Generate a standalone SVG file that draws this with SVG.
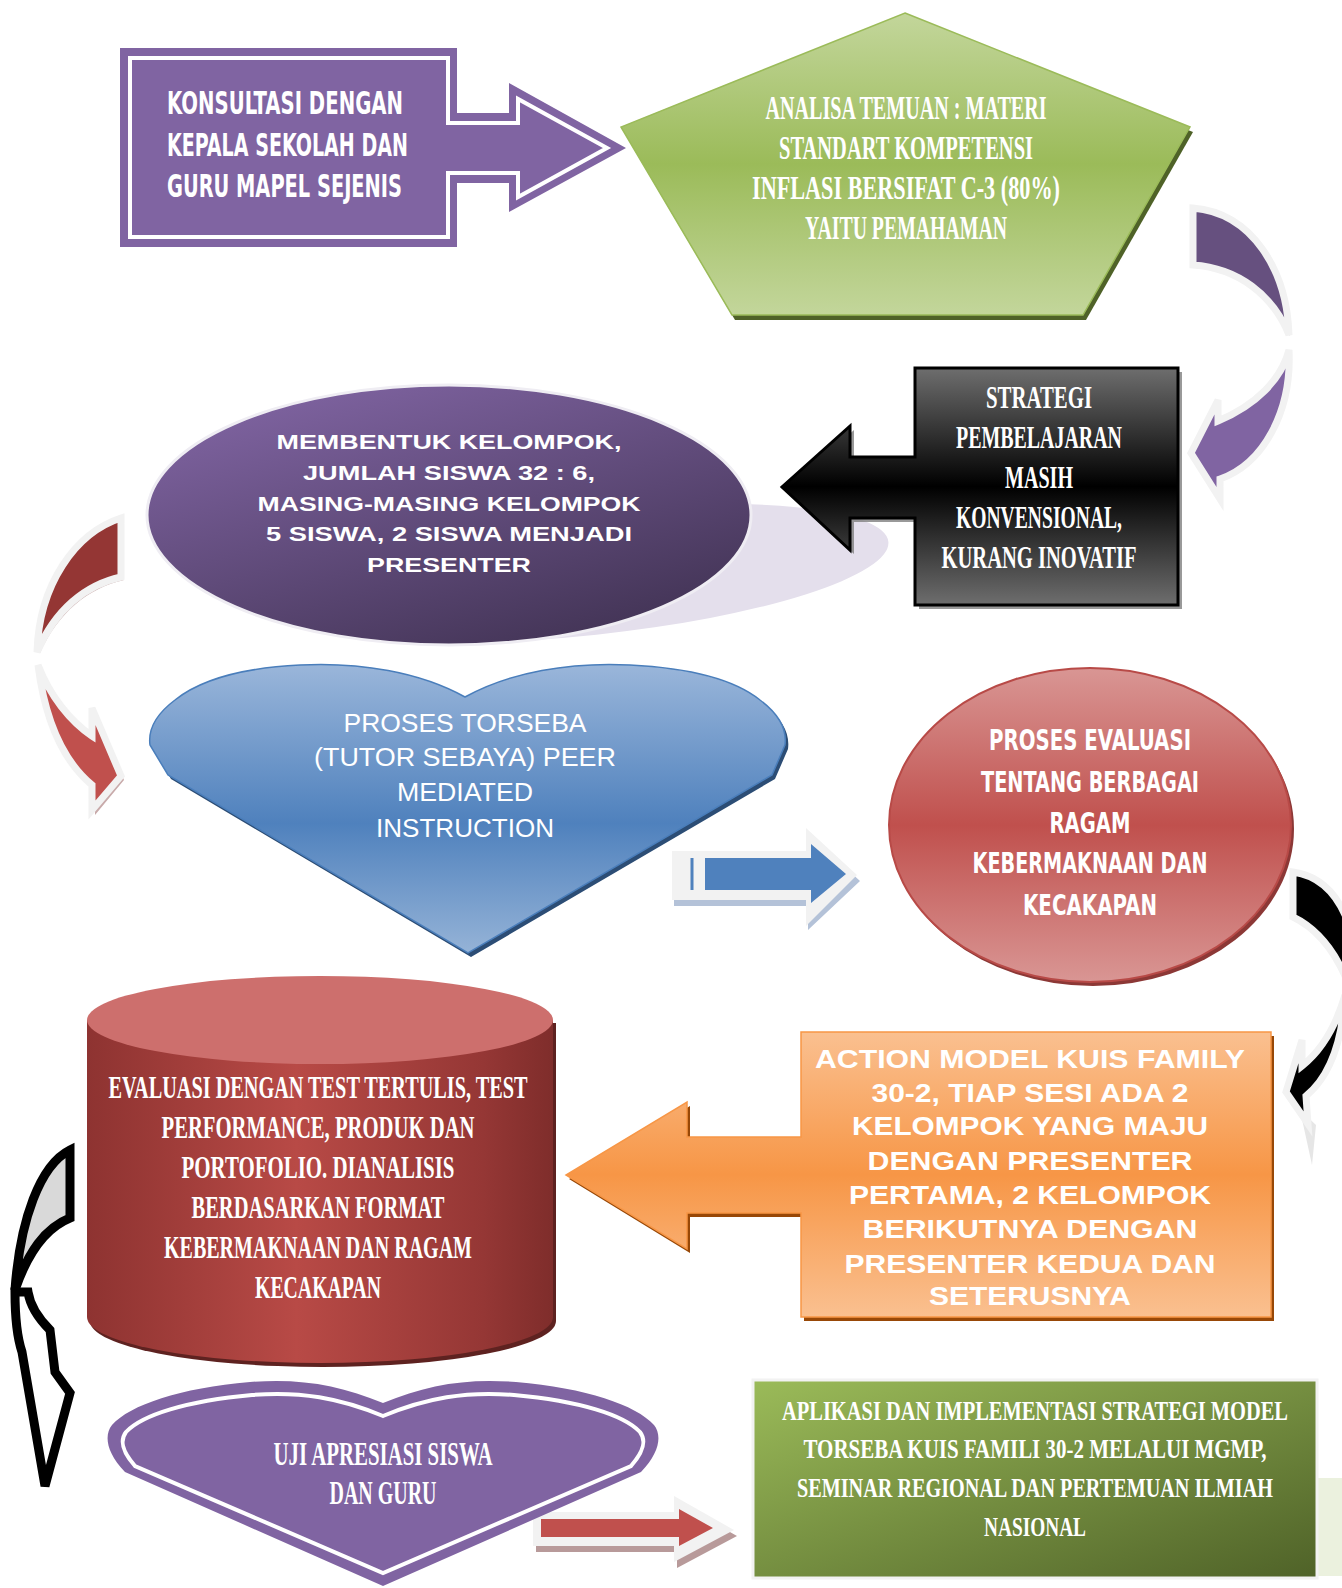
<svg xmlns="http://www.w3.org/2000/svg" width="1342" height="1588" viewBox="0 0 1342 1588">
<style>
.imp{font-family:"Liberation Sans Narrow","DejaVu Sans Condensed","Liberation Sans",sans-serif;font-weight:bold;fill:#fff}
.ser{font-family:"Liberation Serif","DejaVu Serif",serif;font-weight:bold;fill:#fff}
.sb{font-family:"Liberation Sans","DejaVu Sans",sans-serif;font-weight:bold;fill:#fff}
.nr{font-family:"Liberation Sans Narrow","Liberation Sans",sans-serif;fill:#fff}
.mid{text-anchor:middle}
.wo{stroke:#f2f2f2;stroke-width:7;stroke-linejoin:miter}
</style>
<defs>
<linearGradient id="gGreen" x1="0" y1="0" x2="0" y2="1"><stop offset="0" stop-color="#c3d69b"/><stop offset="0.5" stop-color="#9bbb59"/><stop offset="1" stop-color="#c3d69b"/></linearGradient>
<linearGradient id="gBlack" gradientUnits="userSpaceOnUse" x1="0" y1="368" x2="0" y2="605"><stop offset="0" stop-color="#6e6e6e"/><stop offset="0.5" stop-color="#000"/><stop offset="1" stop-color="#6e6e6e"/></linearGradient>
<linearGradient id="gPurp" x1="0.2" y1="0" x2="0.85" y2="1"><stop offset="0" stop-color="#8064a2"/><stop offset="1" stop-color="#3f3151"/></linearGradient>
<linearGradient id="gBlue" x1="0" y1="0" x2="0" y2="1"><stop offset="0" stop-color="#9ab6da"/><stop offset="0.55" stop-color="#4f81bd"/><stop offset="1" stop-color="#95b3d7"/></linearGradient>
<linearGradient id="gRed" x1="0" y1="0" x2="0" y2="1"><stop offset="0" stop-color="#d99694"/><stop offset="0.5" stop-color="#c0504d"/><stop offset="1" stop-color="#d99694"/></linearGradient>
<linearGradient id="gOrange" x1="0" y1="0" x2="0" y2="1"><stop offset="0" stop-color="#fac090"/><stop offset="0.5" stop-color="#f79646"/><stop offset="1" stop-color="#fac090"/></linearGradient>
<linearGradient id="gCyl" x1="0" y1="0" x2="1" y2="0"><stop offset="0" stop-color="#8e3331"/><stop offset="0.45" stop-color="#b84a46"/><stop offset="0.85" stop-color="#953735"/><stop offset="1" stop-color="#7f2d2b"/></linearGradient>
<linearGradient id="gDGreen" x1="0" y1="0" x2="1" y2="1"><stop offset="0" stop-color="#9bbb59"/><stop offset="1" stop-color="#4f6228"/></linearGradient>
</defs>

<g id="connectors">
  <g id="c-purple-uturn">
    <path d="M1196,213 C1253,218 1288,273 1290,336 C1275,298 1241,271 1196,268 Z" fill="#a6a6a6"/>
    <path d="M1290,353 C1293,413 1265,465 1223,480 L1223,500 L1195,456 L1221,405 L1221,424 C1258,408 1283,383 1290,353 Z" fill="#a6a6a6"/>
    <path class="wo" d="M1193,208 C1252,213 1287,270 1289,335 C1273,295 1238,268 1193,265 Z" fill="#66507f"/>
    <path class="wo" d="M1289,350 C1292,412 1263,464 1220,479 L1220,499 L1191,453 L1218,400 L1218,421 C1256,405 1281,380 1289,350 Z" fill="#8064a2"/>
  </g>
  <g id="c-red-curve">
    <path d="M124,524 L124,580 C88,588 58,613 40,653 C43,588 78,538 124,524 Z" fill="#c8aaaa"/>
    <path d="M41,670 C48,725 65,765 95,790 L95,815 L124,780 L95,710 L95,740 C73,725 53,700 41,670 Z" fill="#c8aaaa"/>
    <path class="wo" d="M121,518 L121,577 C85,585 55,610 37,652 C39,585 75,533 121,518 Z" fill="#943634"/>
    <path class="wo" d="M38,665 C45,720 62,760 92,785 L92,810 L121,776 L92,708 L92,736 C70,721 50,696 38,665 Z" fill="#c0504d"/>
  </g>
  <g id="c-blue-arrow">
    <path d="M674,856 H808 V833 L860,881 L808,930 V906 H674 Z" fill="#b4c2d8"/>
    <path d="M672,851 H806 V828 L857,875 L806,926 V900 H672 Z" fill="#f2f2f2"/>
    <path d="M705,858 H811 V844 L846,874 L811,903 V890 H705 Z" fill="#4f81bd"/>
    <line x1="692" y1="858" x2="692" y2="890" stroke="#4f81bd" stroke-width="3"/>
  </g>
  <g id="c-black-curve-right">
    <path class="wo" d="M1293,872 C1322,876 1340,897 1350,928 L1350,988 C1338,956 1320,930 1293,917 Z" fill="#000"/>
    <path d="M1300,1110 L1316,1125 L1312,1165 Z" fill="#e6e6e6"/>
    <path class="wo" d="M1345,995 C1342,1045 1328,1078 1306,1096 L1308,1124 L1286,1092 L1302,1040 L1302,1066 C1322,1050 1336,1026 1345,995 Z" fill="#000"/>
  </g>
  <g id="c-black-curve-left" stroke="#000" stroke-width="9" stroke-linejoin="miter">
    <path d="M70,1150 C40,1165 20,1220 15,1290 C28,1252 45,1228 70,1218 Z" fill="#d9d9d9"/>
    <path d="M15,1292 C15,1320 18,1340 22,1352 L45,1486 L70,1393 L55,1372 L50,1330 C38,1318 30,1305 28,1292 Z" fill="#fff"/>
  </g>
  <g id="c-red-arrow">
    <path d="M536,1518 H677 V1502 L737,1536 L677,1568 V1552 H536 Z" fill="#b89a9a"/>
    <path d="M533,1512 H674 V1496 L734,1530 L674,1562 V1546 H533 Z" fill="#f2f2f2"/>
    <path d="M541,1519 H679 V1509 L713,1528 L679,1546 V1537 H541 Z" fill="#c0504d"/>
  </g>
</g>

<g id="n-konsultasi">
  <path d="M120,48 H457 V113 H509 V83 L626,148 L509,212 V183 H457 V247 H120 Z" fill="#8064a2"/>
  <path d="M130,58 H448 V123 H518 V99 L607,148 L518,197 V173 H448 V237 H130 Z" fill="none" stroke="#fff" stroke-width="4"/>
  <text class="imp" font-size="32" x="167" y="114" textLength="236" lengthAdjust="spacingAndGlyphs">KONSULTASI DENGAN</text>
  <text class="imp" font-size="32" x="167" y="156" textLength="241" lengthAdjust="spacingAndGlyphs">KEPALA SEKOLAH DAN</text>
  <text class="imp" font-size="32" x="167" y="197" textLength="235" lengthAdjust="spacingAndGlyphs">GURU MAPEL SEJENIS</text>
</g>

<g id="n-analisa">
  <path d="M908,18 L1193,132 L1086,320 L735,320 L624,132 Z" fill="#4f6228"/>
  <path d="M905,13 L1190,127 L1083,315 L732,315 L621,127 Z" fill="url(#gGreen)" stroke="#9bbb59" stroke-width="1.5"/>
  <text class="ser mid" font-size="33" x="906" y="119" textLength="281" lengthAdjust="spacingAndGlyphs">ANALISA TEMUAN : MATERI</text>
  <text class="ser mid" font-size="33" x="906" y="159" textLength="254" lengthAdjust="spacingAndGlyphs">STANDART KOMPETENSI</text>
  <text class="ser mid" font-size="33" x="906" y="199" textLength="308" lengthAdjust="spacingAndGlyphs">INFLASI BERSIFAT C-3 (80%)</text>
  <text class="ser mid" font-size="33" x="906" y="239" textLength="202" lengthAdjust="spacingAndGlyphs">YAITU PEMAHAMAN</text>
</g>

<g id="n-membentuk">
  <ellipse cx="590" cy="573" rx="300" ry="62" transform="rotate(-6 590 573)" fill="#e4dfec"/>
  <ellipse cx="449" cy="515" rx="302" ry="130" fill="url(#gPurp)" stroke="#efedf3" stroke-width="3"/>
  <text class="sb mid" font-size="21" x="449" y="449" textLength="345" lengthAdjust="spacingAndGlyphs">MEMBENTUK KELOMPOK,</text>
  <text class="sb mid" font-size="21" x="449" y="480" textLength="292" lengthAdjust="spacingAndGlyphs">JUMLAH SISWA 32 : 6,</text>
  <text class="sb mid" font-size="21" x="449" y="511" textLength="383" lengthAdjust="spacingAndGlyphs">MASING-MASING KELOMPOK</text>
  <text class="sb mid" font-size="21" x="449" y="541" textLength="366" lengthAdjust="spacingAndGlyphs">5 SISWA, 2 SISWA MENJADI</text>
  <text class="sb mid" font-size="21" x="449" y="572" textLength="164" lengthAdjust="spacingAndGlyphs">PRESENTER</text>
</g>

<g id="n-strategi">
  <path d="M919,372 H1182 V609 H919 V522 H854 V554 L786,491 L854,430 V461 H919 Z" fill="#7f7f7f" opacity="0.8"/>
  <path d="M915,368 H1178 V605 H915 V518 H850 V550 L782,487 L850,426 V457 H915 Z" fill="url(#gBlack)" stroke="#000" stroke-width="3"/>
  <text class="ser mid" font-size="31" x="1039" y="408" textLength="106" lengthAdjust="spacingAndGlyphs">STRATEGI</text>
  <text class="ser mid" font-size="31" x="1039" y="448" textLength="166" lengthAdjust="spacingAndGlyphs">PEMBELAJARAN</text>
  <text class="ser mid" font-size="31" x="1039" y="488" textLength="68" lengthAdjust="spacingAndGlyphs">MASIH</text>
  <text class="ser mid" font-size="31" x="1039" y="528" textLength="166" lengthAdjust="spacingAndGlyphs">KONVENSIONAL,</text>
  <text class="ser mid" font-size="31" x="1039" y="568" textLength="195" lengthAdjust="spacingAndGlyphs">KURANG INOVATIF</text>
</g>

<g id="n-torseba">
  <path transform="translate(3,4)" d="M465,697 C420,672 360,662 300,665 C240,668 200,680 175,700 C155,715 148,730 150,745 L168,775 L468,953 L772,775 L785,745 C787,730 780,715 760,700 C735,680 690,668 630,665 C570,662 510,672 465,697 Z" fill="#2c4d75"/>
  <path d="M465,697 C420,672 360,662 300,665 C240,668 200,680 175,700 C155,715 148,730 150,745 L168,775 L468,953 L772,775 L785,745 C787,730 780,715 760,700 C735,680 690,668 630,665 C570,662 510,672 465,697 Z" fill="url(#gBlue)" stroke="#4a7ebb" stroke-width="1.5"/>
  <text class="nr mid" font-size="26" x="465" y="732" textLength="243" lengthAdjust="spacingAndGlyphs">PROSES TORSEBA</text>
  <text class="nr mid" font-size="26" x="465" y="766" textLength="302" lengthAdjust="spacingAndGlyphs">(TUTOR SEBAYA) PEER</text>
  <text class="nr mid" font-size="26" x="465" y="801" textLength="136" lengthAdjust="spacingAndGlyphs">MEDIATED</text>
  <text class="nr mid" font-size="26" x="465" y="837" textLength="178" lengthAdjust="spacingAndGlyphs">INSTRUCTION</text>
</g>

<g id="n-evaluasi-proses">
  <ellipse cx="1093" cy="829" rx="201" ry="157" fill="#8c3836"/>
  <ellipse cx="1090" cy="825" rx="201" ry="157" fill="url(#gRed)" stroke="#b84a47" stroke-width="2"/>
  <text class="imp mid" font-size="28" x="1090" y="750" textLength="202" lengthAdjust="spacingAndGlyphs">PROSES EVALUASI</text>
  <text class="imp mid" font-size="28" x="1090" y="792" textLength="218" lengthAdjust="spacingAndGlyphs">TENTANG BERBAGAI</text>
  <text class="imp mid" font-size="28" x="1090" y="833" textLength="81" lengthAdjust="spacingAndGlyphs">RAGAM</text>
  <text class="imp mid" font-size="28" x="1090" y="873" textLength="235" lengthAdjust="spacingAndGlyphs">KEBERMAKNAAN DAN</text>
  <text class="imp mid" font-size="28" x="1090" y="915" textLength="134" lengthAdjust="spacingAndGlyphs">KECAKAPAN</text>
</g>

<g id="n-action">
  <path d="M804,1036 H1274 V1321 H804 V1217 H690 V1253 L569,1179 L690,1106 V1141 H804 Z" fill="#984807"/>
  <path d="M801,1032 H1271 V1317 H801 V1213 H687 V1249 L566,1175 L687,1102 V1137 H801 Z" fill="url(#gOrange)" stroke="#f79646" stroke-width="1.5"/>
  <text class="sb mid" font-size="25" x="1030" y="1068" textLength="430" lengthAdjust="spacingAndGlyphs">ACTION MODEL KUIS FAMILY</text>
  <text class="sb mid" font-size="25" x="1030" y="1102" textLength="317" lengthAdjust="spacingAndGlyphs">30-2, TIAP SESI ADA 2</text>
  <text class="sb mid" font-size="25" x="1030" y="1135" textLength="356" lengthAdjust="spacingAndGlyphs">KELOMPOK YANG MAJU</text>
  <text class="sb mid" font-size="25" x="1030" y="1170" textLength="325" lengthAdjust="spacingAndGlyphs">DENGAN PRESENTER</text>
  <text class="sb mid" font-size="25" x="1030" y="1204" textLength="362" lengthAdjust="spacingAndGlyphs">PERTAMA, 2 KELOMPOK</text>
  <text class="sb mid" font-size="25" x="1030" y="1238" textLength="335" lengthAdjust="spacingAndGlyphs">BERIKUTNYA DENGAN</text>
  <text class="sb mid" font-size="25" x="1030" y="1273" textLength="371" lengthAdjust="spacingAndGlyphs">PRESENTER KEDUA DAN</text>
  <text class="sb mid" font-size="25" x="1030" y="1305" textLength="202" lengthAdjust="spacingAndGlyphs">SETERUSNYA</text>
</g>

<g id="n-evaluasi-test">
  <path d="M90,1023 V1321 A233,46 0 0 0 556,1321 V1023 Z" fill="#5e2220"/>
  <path d="M87,1020 V1317 A233,46 0 0 0 553,1317 V1020 Z" fill="url(#gCyl)"/>
  <ellipse cx="320" cy="1020" rx="233" ry="44" fill="#cd6f6d"/>
  <text class="ser mid" font-size="32" x="318" y="1098" textLength="419" lengthAdjust="spacingAndGlyphs">EVALUASI DENGAN TEST TERTULIS, TEST</text>
  <text class="ser mid" font-size="32" x="318" y="1138" textLength="313" lengthAdjust="spacingAndGlyphs">PERFORMANCE, PRODUK DAN</text>
  <text class="ser mid" font-size="32" x="318" y="1178" textLength="273" lengthAdjust="spacingAndGlyphs">PORTOFOLIO. DIANALISIS</text>
  <text class="ser mid" font-size="32" x="318" y="1218" textLength="253" lengthAdjust="spacingAndGlyphs">BERDASARKAN FORMAT</text>
  <text class="ser mid" font-size="32" x="318" y="1258" textLength="308" lengthAdjust="spacingAndGlyphs">KEBERMAKNAAN DAN RAGAM</text>
  <text class="ser mid" font-size="32" x="318" y="1298" textLength="126" lengthAdjust="spacingAndGlyphs">KECAKAPAN</text>
</g>

<g id="n-uji">
  <path d="M383,1403 C340,1385 300,1378 250,1382 C180,1388 130,1405 112,1425 C104,1435 106,1452 125,1472 L383,1586 L641,1472 C660,1452 662,1435 654,1425 C636,1405 586,1388 516,1382 C466,1378 426,1385 383,1403 Z" fill="#8064a2"/>
  <path d="M383,1416 C340,1398 300,1391 252,1395 C186,1401 142,1415 126,1432 C120,1440 121,1450 135,1466 L383,1573 L631,1466 C645,1450 646,1440 640,1432 C624,1415 580,1401 514,1395 C466,1391 426,1398 383,1416 Z" fill="none" stroke="#fff" stroke-width="4"/>
  <text class="ser mid" font-size="33" x="383" y="1465" textLength="219" lengthAdjust="spacingAndGlyphs">UJI APRESIASI SISWA</text>
  <text class="ser mid" font-size="33" x="383" y="1504" textLength="107" lengthAdjust="spacingAndGlyphs">DAN GURU</text>
</g>

<g id="n-aplikasi">
  <rect x="1317" y="1478" width="25" height="98" fill="#ebf1de"/>
  <rect x="753" y="1380" width="564" height="198" fill="url(#gDGreen)" stroke="#f2f2f2" stroke-width="3"/>
  <text class="ser mid" font-size="21" transform="translate(1035,1420) scale(1,1.32)" x="0" y="0" textLength="506" lengthAdjust="spacingAndGlyphs">APLIKASI DAN IMPLEMENTASI STRATEGI MODEL</text>
  <text class="ser mid" font-size="21" transform="translate(1035,1458) scale(1,1.32)" x="0" y="0" textLength="463" lengthAdjust="spacingAndGlyphs">TORSEBA KUIS FAMILI 30-2 MELALUI MGMP,</text>
  <text class="ser mid" font-size="21" transform="translate(1035,1497) scale(1,1.32)" x="0" y="0" textLength="476" lengthAdjust="spacingAndGlyphs">SEMINAR REGIONAL DAN PERTEMUAN ILMIAH</text>
  <text class="ser mid" font-size="21" transform="translate(1035,1536) scale(1,1.32)" x="0" y="0" textLength="102" lengthAdjust="spacingAndGlyphs">NASIONAL</text>
</g>
</svg>
